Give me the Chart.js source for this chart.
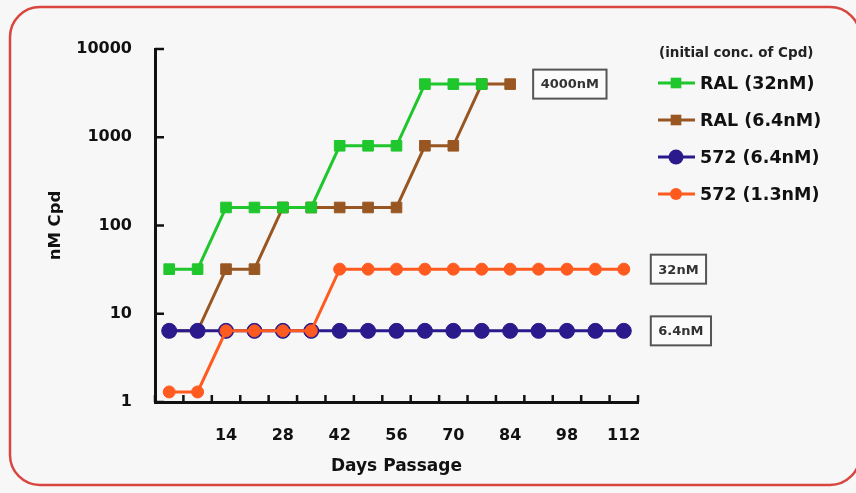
<!DOCTYPE html>
<html>
<head>
<meta charset="utf-8">
<script src="https://cdn.jsdelivr.net/npm/chart.js@4.4.0/dist/chart.umd.min.js"></script>
<style>
  html, body { margin: 0; padding: 0; background: #f7f7f7; }
  canvas { display: block; }
</style>
</head>
<body>
<canvas id="myChart" width="856" height="493"></canvas>
<script>
// days of passage (one point per week)
var days = [0, 7, 14, 21, 28, 35, 42, 49, 56, 63, 70, 77, 84, 91, 98, 105, 112];
var dayLabels = [14, 28, 42, 56, 70, 84, 98, 112];
var yTicks = [1, 10, 100, 1000, 10000];

var seriesNames = ['RAL (32nM)', 'RAL (6.4nM)', '572 (6.4nM)', '572 (1.3nM)'];
var ral32 = [32, 32, 160, 160, 160, 160, 800, 800, 800, 4000, 4000, 4000, null, null, null, null, null];
var ral64 = [6.4, 6.4, 32, 32, 160, 160, 160, 160, 160, 800, 800, 4000, 4000, null, null, null, null];
var c572_64 = [6.4, 6.4, 6.4, 6.4, 6.4, 6.4, 6.4, 6.4, 6.4, 6.4, 6.4, 6.4, 6.4, 6.4, 6.4, 6.4, 6.4];
var c572_13 = [1.3, 1.3, 6.4, 6.4, 6.4, 6.4, 32, 32, 32, 32, 32, 32, 32, 32, 32, 32, 32];

// boxed notes next to the last point of a series
var noteLabels = ['4000nM', '32nM', '6.4nM'];
var noteSeries = [1, 3, 2];

var colors = {
  green: '#1fc62c',
  brown: '#985722',
  blue: '#2a1a8c',
  orange: '#ff5b20',
  frame: '#d8463f'
};

var FONT = '"DejaVu Sans", "Liberation Sans", sans-serif';

function drawMarker(ctx, style, x, y, r, color) {
  ctx.fillStyle = color;
  ctx.strokeStyle = color;
  ctx.beginPath();
  if (style === 'rect') {
    var s = r * Math.SQRT1_2;
    ctx.rect(x - s, y - s, 2 * s, 2 * s);
  } else {
    ctx.arc(x, y, r, 0, Math.PI * 2);
  }
  ctx.fill();
}

var framePlugin = {
  id: 'frame',
  beforeDraw: function(chart) {
    var ctx = chart.ctx;
    ctx.save();
    ctx.fillStyle = '#f7f7f7';
    ctx.fillRect(0, 0, chart.width, chart.height);
    ctx.strokeStyle = colors.frame;
    ctx.lineWidth = 2.5;
    ctx.beginPath();
    ctx.roundRect(10, 7, 850, 478, 30);
    ctx.stroke();
    ctx.restore();
  }
};

var axisTicks = {
  id: 'axisTicks',
  beforeDatasetsDraw: function(chart) {
    var ctx = chart.ctx, a = chart.chartArea, x = chart.scales.x, y = chart.scales.y;
    ctx.save();
    ctx.strokeStyle = '#111';
    ctx.lineWidth = 2.5;
    ctx.beginPath();
    yTicks.forEach(function(v) {
      var py = y.getPixelForValue(v);
      ctx.moveTo(a.left, py);
      ctx.lineTo(a.left + 9, py);
    });
    for (var i = 0; i <= days.length; i++) {
      var px = x.getPixelForValue(i - 0.5);
      ctx.moveTo(px, a.bottom);
      ctx.lineTo(px, a.bottom - 7);
    }
    ctx.stroke();
    ctx.restore();
  }
};

var notes = {
  id: 'notes',
  afterDatasetsDraw: function(chart) {
    var ctx = chart.ctx, x = chart.scales.x, y = chart.scales.y;
    ctx.save();
    ctx.font = 'bold 13px ' + FONT;
    ctx.textBaseline = 'middle';
    noteLabels.forEach(function(txt, n) {
      var data = chart.data.datasets[noteSeries[n]].data;
      var last = data.length - 1;
      while (data[last] == null) last--;
      var bx = x.getPixelForValue(last) + (n === 0 ? 23 : 27);
      var by = y.getPixelForValue(data[last]);
      var w = ctx.measureText(txt).width + 15;
      var h = 29;
      ctx.fillStyle = '#fbfbfb';
      ctx.fillRect(bx, by - h / 2, w, h);
      ctx.strokeStyle = '#555';
      ctx.lineWidth = 2;
      ctx.strokeRect(bx, by - h / 2, w, h);
      ctx.fillStyle = '#333';
      ctx.fillText(txt, bx + 7.5, by + 1);
    });
    ctx.restore();
  }
};

var legendPlugin = {
  id: 'sideLegend',
  afterDraw: function(chart) {
    var ctx = chart.ctx;
    ctx.save();
    ctx.fillStyle = '#222';
    ctx.textBaseline = 'middle';
    ctx.font = 'bold 13.5px ' + FONT;
    ctx.fillText('(initial conc. of Cpd)', 659, 53);
    ctx.font = 'bold 17.5px ' + FONT;
    chart.data.datasets.forEach(function(ds, i) {
      var ly = 83 + i * 37;
      ctx.strokeStyle = ds.borderColor;
      ctx.lineWidth = 3;
      ctx.beginPath();
      ctx.moveTo(658, ly);
      ctx.lineTo(695, ly);
      ctx.stroke();
      drawMarker(ctx, ds.pointStyle, 676, ly, ds.pointRadius, ds.borderColor);
      ctx.fillStyle = '#111';
      ctx.fillText(ds.label, 700, ly + 1);
    });
    ctx.restore();
  }
};

function series(label, data, color, style, radius, order) {
  return {
    label: label,
    data: data,
    borderColor: color,
    backgroundColor: color,
    pointBackgroundColor: color,
    pointBorderColor: color,
    pointBorderWidth: 1,
    pointStyle: style,
    pointRadius: radius,
    borderWidth: 3,
    tension: 0,
    order: order
  };
}

var config = {
  type: 'line',
  data: {
    labels: days,
    datasets: [
      series(seriesNames[0], ral32, colors.green, 'rect', 7.5, 2),
      series(seriesNames[1], ral64, colors.brown, 'rect', 7.5, 3),
      series(seriesNames[2], c572_64, colors.blue, 'circle', 7.5, 1),
      series(seriesNames[3], c572_13, colors.orange, 'circle', 6, 0)
    ]
  },
  options: {
    responsive: false,
    animation: false,
    layout: { padding: { top: 49, right: 218, bottom: 0, left: 0 } },
    plugins: {
      legend: { display: false },
      tooltip: { enabled: false }
    },
    scales: {
      x: {
        type: 'category',
        offset: true,
        grid: { display: false, offset: true },
        border: { display: true, color: '#111', width: 3 },
        ticks: {
          autoSkip: false,
          maxRotation: 0,
          padding: 16,
          color: '#111',
          font: { family: FONT, size: 16, weight: 'bold' },
          callback: function(value, index) {
            var d = days[index];
            return dayLabels.indexOf(d) >= 0 ? String(d) : '';
          }
        },
        title: {
          display: true,
          text: 'Days Passage',
          color: '#111',
          padding: { top: 0, bottom: 16 },
          font: { family: FONT, size: 17, weight: 'bold' }
        },
        afterFit: function(scale) { scale.height = 91; }
      },
      y: {
        type: 'logarithmic',
        min: 1,
        max: 10000,
        grid: { display: false },
        border: { display: true, color: '#111', width: 3 },
        afterBuildTicks: function(scale) {
          scale.ticks = yTicks.map(function(v) { return { value: v }; });
        },
        ticks: {
          padding: 15,
          color: '#111',
          font: { family: FONT, size: 16, weight: 'bold' },
          callback: function(value) { return String(value); }
        },
        title: {
          display: true,
          text: 'nM Cpd',
          color: '#111',
          padding: { top: 46, bottom: 0 },
          font: { family: FONT, size: 16.5, weight: 'bold' }
        },
        afterFit: function(scale) { scale.width = 155; }
      }
    }
  },
  plugins: [framePlugin, axisTicks, notes, legendPlugin]
};

window.onload = function() {
  var ctx = document.getElementById('myChart').getContext('2d');
  window.myLine = new Chart(ctx, config);
};
</script>
</body>
</html>
